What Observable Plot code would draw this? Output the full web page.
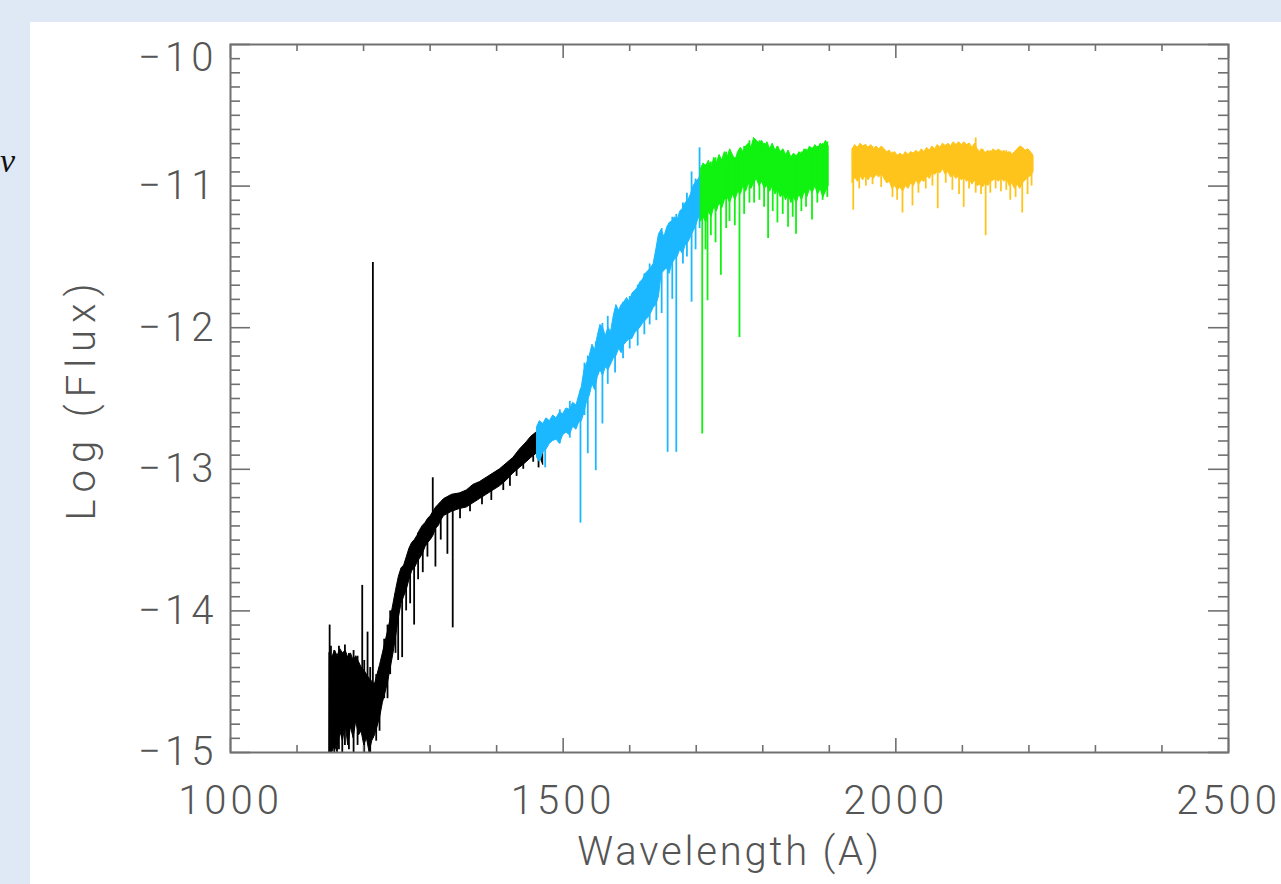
<!DOCTYPE html>
<html><head><meta charset="utf-8">
<script src="https://cdn.jsdelivr.net/npm/d3@7"></script>
<script src="https://cdn.jsdelivr.net/npm/@observablehq/plot@0.6"></script>
<style>
html,body{margin:0;padding:0;width:1281px;height:884px;overflow:hidden;background:#dfe9f5;}
#panel{position:absolute;left:30px;top:22px;width:1251px;height:862px;background:#fff;}
#side{position:absolute;left:0px;top:142px;font:italic 34px "Liberation Serif";color:#111;}
#panel g[aria-label="x-axis tick label"] text, #panel g[aria-label="y-axis tick label"] text{letter-spacing:4px;}
#panel g[aria-label="x-axis label"] text{letter-spacing:2.8px;}
#panel g[aria-label="y-axis label"] text{letter-spacing:7px;}
</style></head><body>
<div id="side">v</div>
<div id="panel"></div>
<script>
// ---- data: [wavelength (Å), upper log flux, lower log flux] ----
const blackEnvelope = [
 [1149,-14.30,-15.0],[1153,-14.33,-15.0],[1157,-14.28,-14.95],[1161,-14.32,-15.0],[1165,-14.27,-14.85],
 [1169,-14.30,-14.92],[1173,-14.28,-14.80],[1177,-14.33,-14.95],[1181,-14.30,-14.82],[1185,-14.35,-14.90],
 [1189,-14.32,-14.78],[1193,-14.36,-14.88],[1197,-14.40,-14.85],[1201,-14.42,-14.95],[1205,-14.45,-14.90],
 [1209,-14.48,-15.0],[1213,-14.50,-14.92],[1217,-14.52,-14.88],[1221,-14.45,-14.82],[1225,-14.38,-14.75],
 [1229,-14.30,-14.65],[1233,-14.22,-14.58],[1237,-14.14,-14.50],[1241,-14.05,-14.40],[1245,-13.95,-14.30],
 [1249,-13.85,-14.18],[1253,-13.76,-14.05],[1257,-13.70,-13.95],[1261,-13.68,-13.90],[1265,-13.62,-13.85],
 [1269,-13.56,-13.78],[1273,-13.52,-13.72],[1277,-13.50,-13.70],[1281,-13.47,-13.66],[1285,-13.43,-13.63],
 [1289,-13.40,-13.60],[1293,-13.38,-13.55],[1297,-13.35,-13.52],[1301,-13.33,-13.50],[1305,-13.30,-13.47],
 [1309,-13.27,-13.42],[1313,-13.25,-13.40],[1317,-13.23,-13.36],[1321,-13.21,-13.33],[1325,-13.20,-13.32],
 [1333,-13.18,-13.30],[1345,-13.17,-13.28],[1355,-13.15,-13.27],[1365,-13.11,-13.24],[1375,-13.09,-13.21],
 [1385,-13.06,-13.18],[1395,-13.03,-13.15],[1405,-13.00,-13.12],[1415,-12.96,-13.08],[1425,-12.92,-13.03],
 [1435,-12.86,-12.99],[1445,-12.81,-12.95],[1452,-12.77,-12.92],[1460,-12.74,-12.89],[1466,-12.72,-12.92],
 [1470,-12.78,-12.97]
];
const blackLines = [
 [1149,-14.10,-15.0],[1151,-14.25,-15.0],[1156,-14.28,-15.0],[1163,-14.25,-14.98],[1168,-14.30,-15.0],
 [1172,-14.24,-14.95],[1178,-14.30,-14.98],[1185,-14.28,-15.0],[1191,-14.32,-14.95],[1198,-13.82,-14.85],
 [1201,-14.35,-15.0],[1206,-14.15,-14.90],[1210,-14.40,-15.0],[1214,-11.54,-14.90],[1219,-14.45,-14.92],
 [1224,-14.40,-14.85],[1231,-14.20,-14.62],[1236,-14.10,-14.62],[1240,-14.00,-14.45],[1248,-13.88,-14.30],
 [1252,-13.80,-14.35],[1258,-13.80,-14.33],[1264,-13.65,-14.00],[1270,-13.58,-13.95],[1276,-13.55,-14.10],
 [1282,-13.45,-13.78],[1289,-13.45,-13.73],[1296,-13.36,-13.62],[1304,-13.06,-13.45],[1308,-13.30,-13.69],
 [1316,-13.24,-13.50],[1326,-13.22,-13.60],[1334,-13.20,-14.12],[1345,-13.17,-13.35],[1360,-13.14,-13.30],
 [1378,-13.08,-13.25],[1392,-13.05,-13.22],[1410,-12.98,-13.15],[1420,-12.94,-13.12],[1430,-12.92,-13.05],
 [1440,-12.84,-13.00],[1455,-12.76,-12.95],[1463,-12.70,-12.99]
];
const blueEnvelope = [
 [1461,-12.70,-12.92],[1465,-12.66,-12.95],[1470,-12.68,-12.88],[1475,-12.64,-12.86],[1480,-12.66,-12.82],
 [1485,-12.62,-12.80],[1490,-12.64,-12.79],[1495,-12.60,-12.82],[1500,-12.61,-12.76],[1505,-12.57,-12.74],
 [1510,-12.58,-12.76],[1515,-12.53,-12.70],[1520,-12.55,-12.72],[1524,-12.48,-12.67],[1528,-12.42,-12.66],
 [1532,-12.30,-12.60],[1536,-12.25,-12.52],[1540,-12.20,-12.48],[1544,-12.12,-12.40],[1548,-12.16,-12.44],
 [1552,-12.06,-12.35],[1556,-11.98,-12.30],[1560,-12.00,-12.34],[1564,-12.06,-12.28],[1568,-12.00,-12.30],
 [1572,-12.03,-12.26],[1576,-11.92,-12.22],[1580,-11.84,-12.20],[1584,-11.88,-12.15],[1588,-11.84,-12.18],
 [1592,-11.82,-12.12],[1596,-11.79,-12.10],[1600,-11.82,-12.08],[1604,-11.76,-12.08],[1608,-11.74,-12.04],
 [1612,-11.72,-12.02],[1616,-11.68,-12.00],[1620,-11.66,-11.97],[1624,-11.62,-11.95],[1628,-11.60,-11.93],
 [1632,-11.58,-11.90],[1636,-11.55,-11.86],[1640,-11.45,-11.84],[1644,-11.34,-11.78],[1648,-11.31,-11.62],
 [1652,-11.36,-11.60],[1656,-11.30,-11.58],[1660,-11.26,-11.62],[1664,-11.25,-11.55],[1668,-11.22,-11.52],
 [1672,-11.24,-11.50],[1676,-11.18,-11.45],[1680,-11.16,-11.48],[1684,-11.12,-11.42],[1688,-11.10,-11.40],
 [1692,-11.06,-11.36],[1696,-11.00,-11.32],[1700,-10.97,-11.28],[1704,-10.95,-11.22],[1707,-10.92,-11.25]
];
const blueLines = [
 [1473,-12.66,-12.99],[1495,-12.58,-12.82],[1510,-12.52,-12.78],[1526,-12.44,-13.38],[1532,-12.25,-12.62],
 [1537,-12.20,-12.89],[1549,-12.10,-13.01],[1559,-11.97,-12.68],[1567,-11.92,-12.40],[1578,-11.88,-12.32],
 [1590,-11.82,-12.22],[1600,-11.78,-12.15],[1612,-11.70,-12.13],[1622,-11.62,-12.05],[1630,-11.55,-11.98],
 [1640,-11.45,-11.95],[1648,-11.30,-11.90],[1657,-11.28,-12.88],[1664,-11.22,-11.80],[1670,-11.20,-12.88],
 [1680,-11.12,-11.55],[1686,-11.05,-11.50],[1693,-10.90,-11.82],[1699,-10.95,-11.45],[1705,-10.73,-11.30]
];
const greenEnvelope = [
 [1707,-10.88,-11.25],[1711,-10.84,-11.22],[1715,-10.86,-11.26],[1719,-10.82,-11.18],[1723,-10.88,-11.22],
 [1727,-10.80,-11.15],[1731,-10.84,-11.18],[1735,-10.78,-11.12],[1739,-10.82,-11.16],[1743,-10.76,-11.10],
 [1747,-10.80,-11.08],[1751,-10.74,-11.12],[1755,-10.78,-11.06],[1759,-10.82,-11.10],[1763,-10.76,-11.04],
 [1767,-10.73,-11.06],[1771,-10.76,-11.00],[1775,-10.72,-11.04],[1779,-10.70,-10.98],[1783,-10.73,-11.02],
 [1787,-10.66,-10.98],[1791,-10.68,-10.95],[1795,-10.70,-11.00],[1799,-10.68,-10.97],[1803,-10.72,-11.02],
 [1807,-10.69,-11.00],[1811,-10.74,-11.04],[1815,-10.70,-11.00],[1819,-10.75,-11.06],[1823,-10.72,-11.02],
 [1827,-10.76,-11.08],[1831,-10.74,-11.05],[1835,-10.78,-11.10],[1839,-10.75,-11.06],[1843,-10.80,-11.12],
 [1847,-10.77,-11.08],[1851,-10.80,-11.12],[1855,-10.76,-11.06],[1859,-10.78,-11.10],[1863,-10.74,-11.04],
 [1867,-10.76,-11.08],[1871,-10.72,-11.02],[1875,-10.75,-11.05],[1879,-10.71,-11.00],[1883,-10.74,-11.06],
 [1887,-10.70,-11.02],[1891,-10.72,-11.08],[1895,-10.68,-11.04],[1899,-10.72,-11.00]
];
const greenLines = [
 [1709,-10.90,-12.75],[1714,-10.85,-11.45],[1717,-10.88,-11.81],[1722,-10.83,-11.35],[1729,-10.80,-11.40],
 [1737,-10.82,-11.63],[1745,-10.76,-11.30],[1750,-10.78,-11.25],[1758,-10.80,-11.28],[1765,-10.76,-12.07],
 [1772,-10.72,-11.20],[1780,-10.68,-11.12],[1787,-10.67,-11.12],[1795,-10.68,-11.10],[1802,-10.70,-11.15],
 [1808,-10.72,-11.37],[1815,-10.72,-11.18],[1822,-10.72,-11.26],[1830,-10.75,-11.20],[1838,-10.75,-11.29],
 [1845,-10.78,-11.22],[1850,-10.78,-11.34],[1858,-10.76,-11.18],[1865,-10.74,-11.15],[1874,-10.73,-11.24],
 [1882,-10.72,-11.12],[1890,-10.70,-11.10],[1897,-10.69,-11.08]
];
const orangeEnvelope = [
 [1935,-10.74,-10.98],[1939,-10.71,-10.94],[1943,-10.73,-10.97],[1947,-10.70,-10.93],[1951,-10.72,-10.96],
 [1955,-10.71,-10.92],[1959,-10.73,-10.96],[1963,-10.71,-10.93],[1967,-10.74,-10.95],[1971,-10.72,-10.92],
 [1975,-10.74,-10.94],[1979,-10.72,-10.91],[1983,-10.74,-10.95],[1987,-10.76,-10.98],[1991,-10.75,-10.97],
 [1995,-10.78,-11.02],[1999,-10.76,-11.00],[2003,-10.79,-11.03],[2007,-10.77,-11.01],[2011,-10.79,-11.04],
 [2015,-10.76,-11.00],[2019,-10.78,-11.02],[2023,-10.76,-10.98],[2027,-10.77,-11.00],[2031,-10.75,-10.96],
 [2035,-10.77,-10.99],[2039,-10.74,-10.96],[2043,-10.76,-10.97],[2047,-10.73,-10.93],[2051,-10.75,-10.95],
 [2055,-10.72,-10.91],[2059,-10.74,-10.92],[2063,-10.71,-10.90],[2067,-10.73,-10.91],[2071,-10.70,-10.88],
 [2075,-10.72,-10.92],[2079,-10.70,-10.90],[2083,-10.72,-10.94],[2087,-10.69,-10.92],[2091,-10.71,-10.95],
 [2095,-10.69,-10.93],[2099,-10.71,-10.96],[2103,-10.69,-10.94],[2107,-10.71,-10.97],[2111,-10.70,-10.95],
 [2115,-10.73,-10.99],[2119,-10.70,-10.96],[2123,-10.74,-11.00],[2127,-10.76,-10.99],[2131,-10.74,-11.01],
 [2135,-10.77,-10.98],[2139,-10.75,-11.00],[2143,-10.77,-10.97],[2147,-10.74,-10.96],[2151,-10.76,-10.95],
 [2155,-10.74,-10.97],[2159,-10.77,-10.94],[2163,-10.75,-10.97],[2167,-10.77,-10.95],[2171,-10.76,-11.00],
 [2175,-10.78,-10.98],[2179,-10.76,-11.02],[2183,-10.74,-10.99],[2187,-10.72,-11.02],[2191,-10.73,-10.98],
 [2195,-10.75,-10.96],[2199,-10.74,-10.94],[2203,-10.76,-10.93],[2207,-10.79,-10.90]
];
const orangeLines = [
 [1936,-10.73,-11.17],[1945,-10.72,-11.02],[1955,-10.71,-11.00],[1965,-10.72,-10.99],[1978,-10.73,-11.01],
 [1995,-10.76,-11.08],[2002,-10.78,-11.10],[2010,-10.78,-11.19],[2025,-10.77,-11.14],[2034,-10.76,-11.05],
 [2045,-10.75,-11.02],[2055,-10.74,-11.00],[2063,-10.73,-11.16],[2075,-10.71,-10.98],[2085,-10.70,-11.03],
 [2095,-10.70,-11.06],[2102,-10.70,-11.15],[2110,-10.70,-11.02],[2120,-10.66,-11.05],[2128,-10.74,-11.06],
 [2135,-10.76,-11.35],[2142,-10.75,-11.05],[2150,-10.75,-11.02],[2158,-10.75,-11.04],[2166,-10.75,-11.03],
 [2172,-10.76,-11.10],[2180,-10.77,-11.08],[2190,-10.74,-11.19],[2198,-10.75,-11.06],[2204,-10.77,-11.00]
];
const segmentColors = ["#000000", "#1cb8ff", "#10f210", "#ffc41c"];
const xTickLabels = [1000, 1500, 2000, 2500];
const yTickLabels = [-10, -11, -12, -13, -14, -15];
const xLabel = "Wavelength (A)";
const yLabel = "Log (Flux)";

// ---- build ----
const W = 1251, H = 862, mL = 200, mR = 53, mT = 22, mB = 132;
const iW = W - mL - mR, iH = H - mT - mB;
const rows = a => a.map(([w, hi, lo]) => ({w, hi, lo}));
const segs = [
  [blackEnvelope, blackLines], [blueEnvelope, blueLines],
  [greenEnvelope, greenLines], [orangeEnvelope, orangeLines]
];
const marks = [];
segs.forEach(([env, lines], i) => {
  const c = segmentColors[i];
  marks.push(Plot.areaY(rows(env), {x: "w", y1: "lo", y2: "hi", fill: c, stroke: c, strokeWidth: 1, curve: "linear", clip: true}));
  marks.push(Plot.ruleX(rows(lines), {x: "w", y1: "lo", y2: "hi", stroke: c, strokeWidth: 1.8, clip: true}));
});
const axisColor = "#707070";
const xMinor = d3.range(1100, 2500, 100).filter(v => v % 500 !== 0);
const yMinor = d3.range(1, 50).map(i => -15 + i / 10).filter((v, i) => (i + 1) % 10 !== 0);
marks.push(
  Plot.ruleX(xTickLabels, {insetTop: iH - 14, stroke: axisColor, strokeWidth: 1.6}),
  Plot.ruleX(xMinor, {insetTop: iH - 7, stroke: axisColor, strokeWidth: 1.6}),
  Plot.ruleX(xTickLabels, {insetBottom: iH - 14, stroke: axisColor, strokeWidth: 1.6}),
  Plot.ruleX(xMinor, {insetBottom: iH - 7, stroke: axisColor, strokeWidth: 1.6}),
  Plot.ruleY(yTickLabels, {insetRight: iW - 20, stroke: axisColor, strokeWidth: 1.6}),
  Plot.ruleY(yMinor, {insetRight: iW - 10, stroke: axisColor, strokeWidth: 1.6}),
  Plot.ruleY(yTickLabels, {insetLeft: iW - 20, stroke: axisColor, strokeWidth: 1.6}),
  Plot.ruleY(yMinor, {insetLeft: iW - 10, stroke: axisColor, strokeWidth: 1.6}),
  Plot.frame({stroke: axisColor, strokeWidth: 2}),
  Plot.axisX(xTickLabels, {anchor: "bottom", tickSize: 0, tickPadding: 33, tickFormat: d => String(d),
    label: xLabel, labelAnchor: "center", labelOffset: 112, labelArrow: "none"}),
  Plot.axisY(yTickLabels.slice(1), {anchor: "left", tickSize: 0, tickPadding: 13, tickFormat: d => "\u2212" + Math.abs(d),
    label: yLabel, labelAnchor: "center", labelOffset: 164, labelArrow: "none"}),
  Plot.axisY(yTickLabels.slice(0, 1), {anchor: "left", tickSize: 0, tickPadding: 13, dy: 14,
    tickFormat: d => "\u2212" + Math.abs(d), label: null})
);
const chart = Plot.plot({
  width: W, height: H, marginLeft: mL, marginRight: mR, marginTop: mT, marginBottom: mB,
  x: {domain: [1000, 2500]}, y: {domain: [-15, -10]},
  style: {fontFamily: "Roboto", fontWeight: 300, fontSize: "40px", color: "#555", background: "transparent"},
  marks
});
document.getElementById("panel").appendChild(chart);
</script>
</body></html>
